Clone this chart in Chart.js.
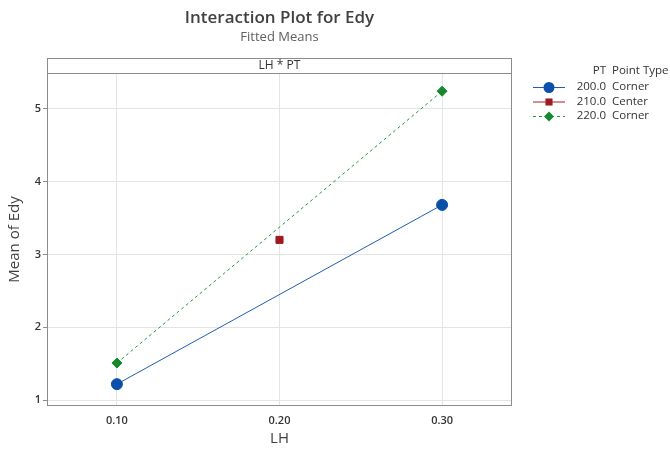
<!DOCTYPE html>
<html>
<head>
<meta charset="utf-8">
<script src="https://cdn.jsdelivr.net/npm/chart.js@4"></script>
<style>
  html, body { margin: 0; padding: 0; background: #fff; }
  #wrap { width: 670px; height: 452px; }
</style>
</head>
<body>
<div id="wrap"><canvas id="InteractionChart" width="670" height="452"></canvas></div>
<script>
// LH levels and fitted means of Edy for each PT level
const lhTicks = [0.10, 0.20, 0.30];
const pt200 = [{ x: 0.10, y: 1.22 }, { x: 0.30, y: 3.68 }];
const pt210 = [{ x: 0.20, y: 3.20 }];
const pt220 = [{ x: 0.10, y: 1.51 }, { x: 0.30, y: 5.24 }];
const yTicks = [1, 2, 3, 4, 5];
const ptLabels = ['200.0', '210.0', '220.0'];
const pointTypes = ['Corner', 'Center', 'Corner'];

const FONT = "'Open Sans', 'Noto Sans', sans-serif";

// title, strip header, plot frame and the PT legend
const decorations = {
  id: 'decorations',
  afterDraw(chart) {
    const { ctx, chartArea: a } = chart;
    const cx = (a.left + a.right) / 2;
    ctx.save();
    ctx.textAlign = 'center';
    ctx.textBaseline = 'middle';
    ctx.fillStyle = '#404040';
    ctx.font = `600 17px ${FONT}`;
    ctx.fillText('Interaction Plot for Edy', cx, 18);
    ctx.fillStyle = '#606060';
    ctx.font = `13px ${FONT}`;
    ctx.fillText('Fitted Means', cx, 37);

    // strip
    ctx.strokeStyle = '#8c8c8c';
    ctx.lineWidth = 1;
    ctx.strokeRect(a.left + 0.5, 58.5, a.right - a.left - 1, a.top - 58);
    ctx.fillStyle = '#333';
    ctx.font = `12px ${FONT}`;
    ctx.fillText('LH * PT', cx, 66);

    // frame
    ctx.strokeRect(a.left + 0.5, a.top + 0.5, a.right - a.left - 1, a.bottom - a.top - 1);

    // legend
    ctx.font = `11.5px ${FONT}`;
    ctx.fillStyle = '#333';
    ctx.textAlign = 'right';
    ctx.fillText('PT', 606, 71);
    ctx.textAlign = 'left';
    ctx.fillText('Point Type', 612, 71);
    chart.data.datasets.forEach((ds, i) => {
      const y = 87 + i * 14.5;
      ctx.save();
      ctx.strokeStyle = ds.borderColor;
      ctx.lineWidth = 1;
      ctx.setLineDash(ds.borderDash || []);
      ctx.beginPath();
      ctx.moveTo(533, y + 0.5);
      ctx.lineTo(565, y + 0.5);
      ctx.stroke();
      ctx.setLineDash([]);
      ctx.fillStyle = ds.pointBackgroundColor;
      ctx.strokeStyle = ds.pointBackgroundColor;
      Chart.helpers.drawPoint(ctx, { pointStyle: ds.pointStyle, radius: ds.pointRadius, borderWidth: 0 }, 549, y + 0.5);
      ctx.restore();
      ctx.fillStyle = '#333';
      ctx.textAlign = 'right';
      ctx.fillText(ptLabels[i], 606, y);
      ctx.textAlign = 'left';
      ctx.fillText(pointTypes[i], 612, y);
    });
    ctx.restore();
  }
};

const ctx = document.getElementById('InteractionChart').getContext('2d');
let chart = new Chart(ctx, {
  type: 'line',
  data: {
    datasets: [{
      label: ptLabels[0],
      data: pt200,
      borderColor: '#1f5fb0',
      backgroundColor: '#0a4fa8',
      pointBackgroundColor: '#0a4fa8',
      pointBorderColor: '#0a4fa8',
      pointStyle: 'circle',
      pointRadius: 5.5,
      borderWidth: 1,
      fill: false
    }, {
      label: ptLabels[1],
      data: pt210,
      borderColor: '#a51c24',
      backgroundColor: '#9e1a20',
      pointBackgroundColor: '#9e1a20',
      pointBorderColor: '#9e1a20',
      pointStyle: 'rect',
      pointRadius: 5,
      borderWidth: 1,
      fill: false
    }, {
      label: ptLabels[2],
      data: pt220,
      borderColor: '#22963a',
      backgroundColor: '#158a2c',
      pointBackgroundColor: '#158a2c',
      pointBorderColor: '#158a2c',
      borderDash: [3, 3],
      pointStyle: 'rectRot',
      pointRadius: 5,
      borderWidth: 1,
      fill: false
    }]
  },
  options: {
    responsive: false,
    animation: false,
    layout: { padding: { top: 73, right: 158, left: 0, bottom: 0 } },
    plugins: {
      legend: { display: false },
      tooltip: { enabled: false }
    },
    scales: {
      x: {
        type: 'linear',
        min: 0.057,
        max: 0.343,
        border: { display: false },
        grid: { color: '#e4e4e4', drawTicks: false },
        afterBuildTicks: s => { s.ticks = lhTicks.map(v => ({ value: v })); },
        afterFit: s => { s.height = 46; },
        ticks: {
          padding: 8,
          color: '#333',
          font: { family: FONT, size: 11, weight: '600' },
          callback: v => v.toFixed(2)
        },
        title: {
          display: true,
          text: 'LH',
          color: '#404040',
          font: { family: FONT, size: 15 },
          padding: { top: 4 }
        }
      },
      y: {
        min: 0.92,
        max: 5.49,
        border: { display: false },
        grid: { color: '#e4e4e4', tickLength: 4, tickColor: '#8c8c8c' },
        afterBuildTicks: s => { s.ticks = yTicks.map(v => ({ value: v })); },
        afterFit: s => { s.width = 47; },
        ticks: {
          padding: 2,
          color: '#333',
          font: { family: FONT, size: 11, weight: '600' }
        },
        title: {
          display: true,
          text: 'Mean of Edy',
          color: '#404040',
          font: { family: FONT, size: 15 },
          padding: { top: 6, bottom: 2 }
        }
      }
    }
  },
  plugins: [decorations]
});
</script>
</body>
</html>
